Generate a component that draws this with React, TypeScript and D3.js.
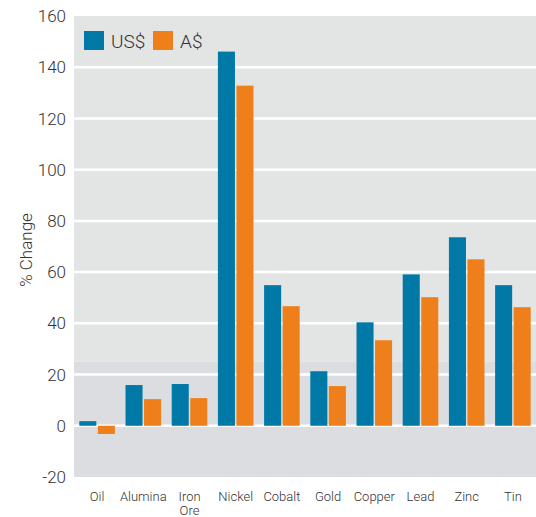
import React from "react";
import * as d3 from "d3";

// Commodity price changes, % change in US$ and A$ terms
const categories = ["Oil", "Alumina", "Iron Ore", "Nickel", "Cobalt", "Gold", "Copper", "Lead", "Zinc", "Tin"];
const seriesNames = ["US$", "A$"];
const usdValues = [1.8, 15.9, 16.3, 146.1, 54.9, 21.3, 40.4, 59.1, 73.6, 54.9];
const audValues = [-3.2, 10.4, 10.8, 132.8, 46.7, 15.5, 33.4, 50.2, 65.0, 46.3];
const yTicks = [-20, 0, 20, 40, 60, 80, 100, 120, 140, 160];

const W = 536;
const H = 517;
const left = 74;
const right = 536;
const top = 16;
const bottom = 477;

const colors: Record<string, string> = { "US$": "#0079a7", "A$": "#ef7f1a" };
const font = "Roboto, 'DejaVu Sans', sans-serif";

export default function App() {
  const x0 = d3.scaleBand<string>().domain(categories).range([left, right]).paddingInner(0.23).paddingOuter(0.115);
  const x1 = d3.scaleBand<string>().domain(seriesNames).range([0, x0.bandwidth()]).paddingInner(0.08);
  const y = d3.scaleLinear().domain([-20, 160]).range([bottom, top]);

  const values: Record<string, number[]> = { "US$": usdValues, "A$": audValues };

  return (
    <svg width={W} height={H} style={{ position: "absolute", left: 0, top: 0 }} fontFamily={font}>
      {/* plot background, darker band near the baseline */}
      <rect x={left} y={y(160)} width={right - left} height={y(25) - y(160)} fill="#e3e4e4" />
      <rect x={left} y={y(25)} width={right - left} height={y(-20) - y(25)} fill="#dcdde0" />

      {yTicks.filter((t) => t > -20 && t < 160).map((t) => (
        <line key={t} x1={left} x2={right} y1={y(t)} y2={y(t)} stroke="#fff" strokeWidth={2.5} />
      ))}

      {yTicks.map((t) => (
        <text key={t} x={66} y={y(t)} dy="0.36em" textAnchor="end" fontSize={17} fontWeight={300} fill="#333">
          {t}
        </text>
      ))}

      <text
        transform={`translate(32,250) rotate(-90)`}
        textAnchor="middle"
        fontSize={17}
        fontWeight={300}
        fill="#333"
      >
        % Change
      </text>

      {categories.map((c, i) =>
        seriesNames.map((s) => {
          const v = values[s][i];
          return (
            <rect
              key={c + s}
              x={(x0(c) as number) + (x1(s) as number)}
              y={y(Math.max(0, v))}
              width={x1.bandwidth()}
              height={Math.abs(y(v) - y(0))}
              fill={colors[s]}
            />
          );
        })
      )}

      {categories.map((c) => {
        const cx = (x0(c) as number) + x0.bandwidth() / 2;
        const words = c.split(" ");
        return (
          <text key={c} x={cx} y={501} textAnchor="middle" fontSize={13} fontWeight={300} fill="#333">
            {words.map((w, j) => (
              <tspan key={j} x={cx} dy={j === 0 ? 0 : 13.5}>
                {w}
              </tspan>
            ))}
          </text>
        );
      })}

      {/* legend */}
      {seriesNames.map((s, i) => {
        const lx = 84 + i * 69;
        return (
          <g key={s}>
            <rect x={lx} y={31} width={20} height={19} fill={colors[s]} />
            <text x={lx + 27} y={41} dy="0.36em" fontSize={19} fontWeight={300} fill="#333">
              {s}
            </text>
          </g>
        );
      })}
    </svg>
  );
}
